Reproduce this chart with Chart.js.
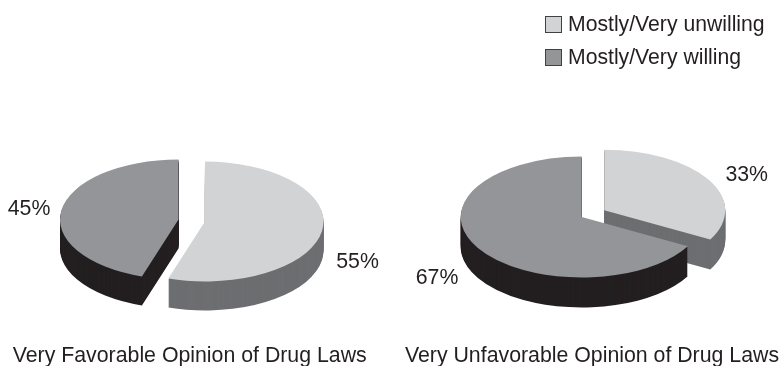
<!DOCTYPE html>
<html>
<head>
<meta charset="utf-8">
<title>Opinion of Drug Laws</title>
<script src="https://cdn.jsdelivr.net/npm/chart.js@4"></script>
<style>
  html, body { margin: 0; padding: 0; background: #fff; }
  #page { position: relative; width: 782px; height: 366px; overflow: hidden; }
  #page canvas { position: absolute; top: 0; }
  #left { left: 0; }
  #right { left: 391px; }
  #legend { position: absolute; left: 545px; top: 8px; font: 21.2px "Liberation Sans", Arial, sans-serif; color: #231f20; }
  #legend div { height: 32.5px; line-height: 32px; white-space: nowrap; }
  #legend span { display: inline-block; width: 15px; height: 15px; border: 1.5px solid #414042; margin-right: 6px; vertical-align: -2px; }
</style>
</head>
<body>
<div id="page">
  <canvas id="left" width="391" height="366"></canvas>
  <canvas id="right" width="391" height="366"></canvas>
  <div id="legend"></div>
</div>
<script>
var categories = ['Mostly/Very unwilling', 'Mostly/Very willing'];
var favorableValues = [55, 45];
var unfavorableValues = [33, 67];
var favorableTitle = 'Very Favorable Opinion of Drug Laws';
var unfavorableTitle = 'Very Unfavorable Opinion of Drug Laws';

var topColors = ['#d1d3d4', '#939598'];
var sideColors = ['#6d6e71', '#231f20'];
var textColor = '#231f20';
var labelFont = '21.3px "Liberation Sans", Arial, sans-serif';

// squashes the flat pie into an ellipse, pulls the slices apart and stacks
// copies of each slice under it for the rim
var tiltedPie = {
  id: 'tiltedPie',
  beforeDatasetsDraw: function(chart, args, opts) {
    var ctx = chart.ctx;
    var arcs = chart.getDatasetMeta(0).data;
    arcs.forEach(function(arc, i) {
      var faceOptions = arc.options;
      var rimOptions = Object.assign({}, faceOptions, { backgroundColor: sideColors[i] });
      var mid = (arc.startAngle + arc.endAngle) / 2;
      for (var d = opts.depth; d >= 0; d--) {
        arc.options = d > 0 ? rimOptions : faceOptions;
        ctx.save();
        ctx.translate(opts.centerX, opts.centerY + d);
        ctx.scale(1, opts.squash);
        ctx.translate(Math.cos(mid) * opts.explode - arc.x, Math.sin(mid) * opts.explode - arc.y);
        arc.draw(ctx);
        ctx.restore();
      }
      arc.options = faceOptions;
    });
    return false;
  },
  afterDraw: function(chart, args, opts) {
    var ctx = chart.ctx;
    var values = chart.data.datasets[0].data;
    ctx.save();
    ctx.fillStyle = textColor;
    ctx.font = labelFont;
    ctx.textAlign = 'center';
    ctx.textBaseline = 'alphabetic';
    values.forEach(function(v, i) {
      ctx.fillText(v + '%', opts.labelX[i], opts.labelY[i]);
    });
    ctx.fillText(opts.title, opts.titleX, opts.titleY);
    ctx.restore();
  }
};

function drawPie(id, values, opts) {
  new Chart(document.getElementById(id), {
    type: 'pie',
    data: {
      labels: categories,
      datasets: [{
        data: values,
        backgroundColor: topColors,
        borderWidth: 0
      }]
    },
    options: {
      responsive: false,
      animation: false,
      radius: opts.radius,
      events: [],
      plugins: {
        legend: { display: false },
        tooltip: { enabled: false },
        tiltedPie: opts
      }
    },
    plugins: [tiltedPie]
  });
}

drawPie('left', favorableValues, {
  radius: 118.5, explode: 13.4, squash: 0.506, depth: 29,
  centerX: 191.75, centerY: 220.5,
  labelX: [357.5, 29], labelY: [267.7, 215],
  title: favorableTitle, titleX: 189.7, titleY: 362.3
});

drawPie('right', unfavorableValues, {
  radius: 121, explode: 13.1, squash: 0.5, depth: 30,
  centerX: 202, centerY: 213.65,
  labelX: [355.7, 46], labelY: [180.7, 284],
  title: unfavorableTitle, titleX: 201, titleY: 362.3
});

// legend sits above the right hand pie
var legend = document.getElementById('legend');
categories.forEach(function(name, i) {
  var row = document.createElement('div');
  var box = document.createElement('span');
  box.style.background = topColors[i];
  row.appendChild(box);
  row.appendChild(document.createTextNode(name));
  legend.appendChild(row);
});
</script>
</body>
</html>
